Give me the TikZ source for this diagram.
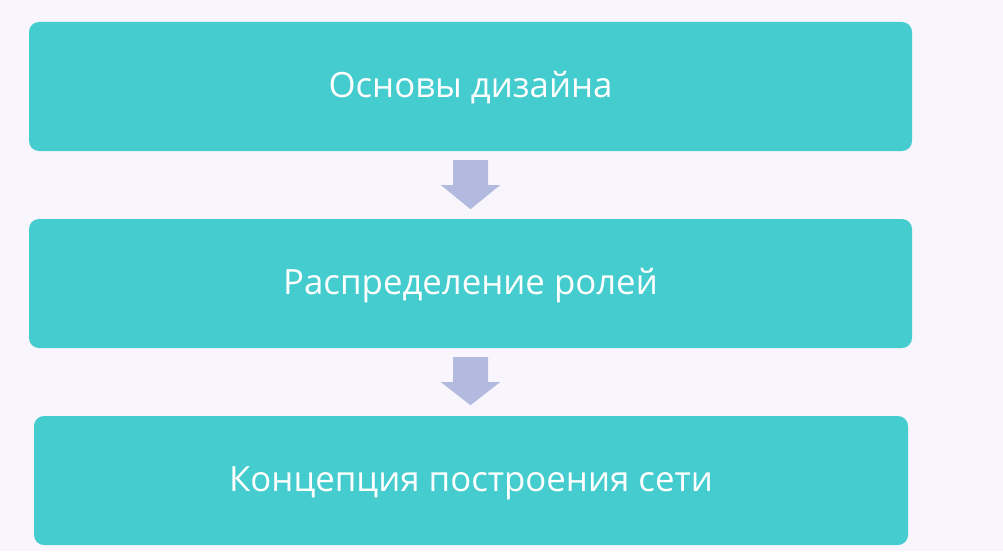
\documentclass[tikz,border=0pt]{standalone}
\usepackage{fontspec}
\setmainfont{Open Sans}
\definecolor{bg}{HTML}{F8F6FC}
\definecolor{teal}{HTML}{45CCCF}
\definecolor{arr}{HTML}{B3BADF}
\begin{document}
\begin{tikzpicture}[x=1pt,y=-1pt,
  stepbox/.style={fill=teal, draw=none, rounded corners=10pt, text=white, font=\fontsize{34.8}{40}\selectfont, inner sep=0pt, minimum height=129pt, text height=26pt, text depth=4pt},
  arrowfill/.style={fill=arr, draw=none}]
\fill[bg] (0,0) rectangle (1003,551);
\useasboundingbox (0,0) rectangle (1003,551);
\node[stepbox, minimum width=883pt] (b1) at (470.5,86.5) {Основы дизайна};
\node[stepbox, minimum width=883pt] (b2) at (470.5,283.5) {Распределение ролей};
\node[stepbox, minimum width=874pt] (b3) at (471,480.5) {Концепция построения сети};
\fill[arrowfill, shift={(b1.south)}] (-17.5,9) -- (17.5,9) -- (17.5,34) -- (29.5,34) -- (0,58) -- (-29.5,34) -- (-17.5,34) -- cycle;
\fill[arrowfill, shift={(b2.south)}] (-17.5,9) -- (17.5,9) -- (17.5,34) -- (29.5,34) -- (0,57) -- (-29.5,34) -- (-17.5,34) -- cycle;
\end{tikzpicture}
\end{document}
